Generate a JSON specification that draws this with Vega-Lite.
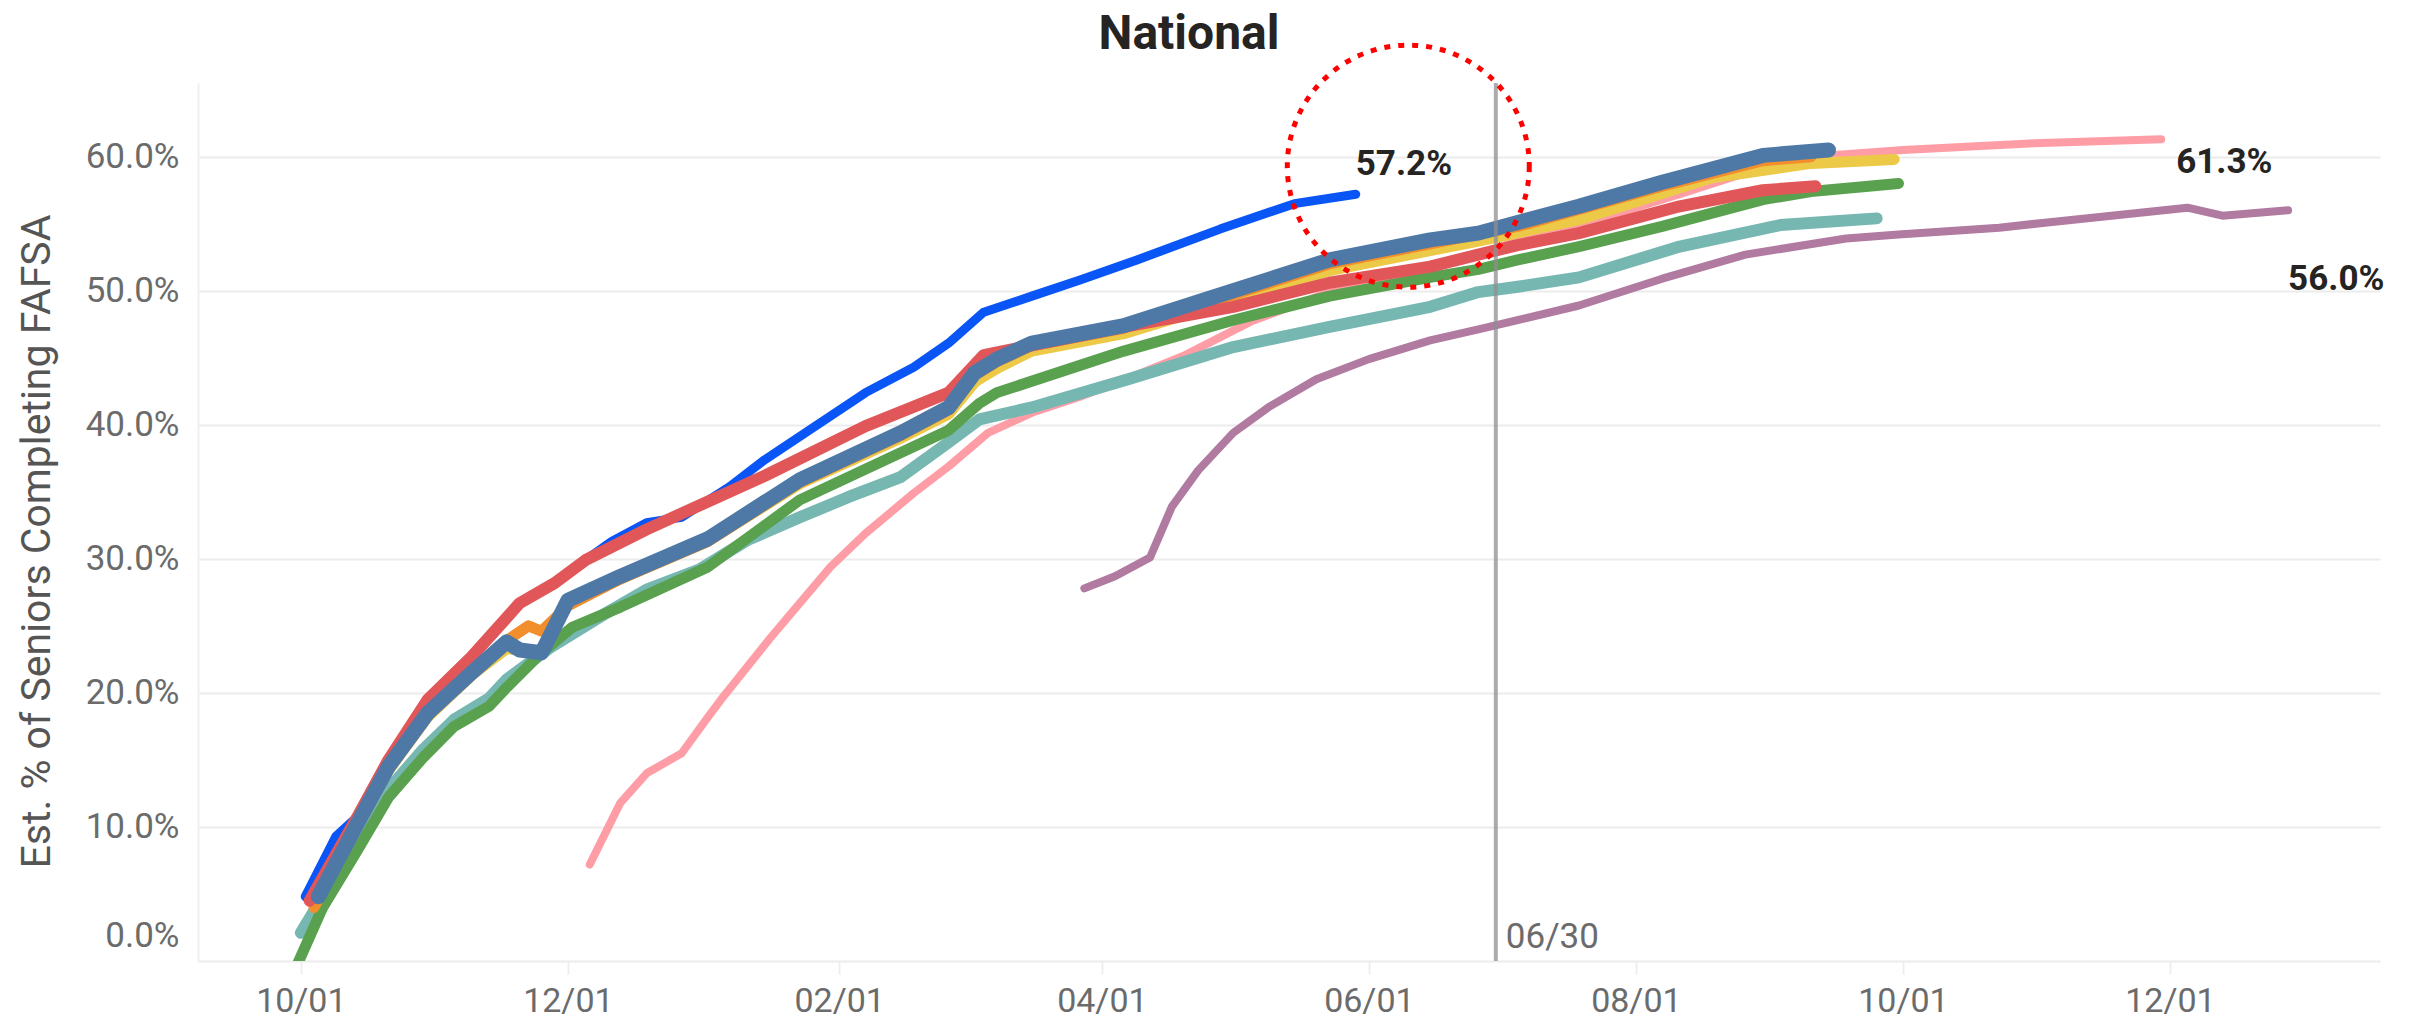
{
  "$schema": "https://vega.github.io/schema/vega-lite/v6.json",
  "width": 2182,
  "height": 878,
  "autosize": {"type": "none"},
  "padding": {"left": 198, "top": 83, "right": 32, "bottom": 59},
  "background": "white",
  "title": {
    "text": "National",
    "anchor": "middle",
    "frame": "group",
    "dx": -100,
    "dy": 28,
    "font": "Roboto",
    "fontSize": 48,
    "fontWeight": "bold",
    "color": "#252423"
  },
  "config": {
    "view": {"stroke": null},
    "font": "Roboto",
    "axis": {"labelFont": "Roboto", "titleFont": "Roboto"}
  },
  "datasets": {
    "cycles": [
      {"s": "Class of 2024", "d": "2024-03-28", "v": 0.278},
      {"s": "Class of 2024", "d": "2024-04-04", "v": 0.287},
      {"s": "Class of 2024", "d": "2024-04-12", "v": 0.301},
      {"s": "Class of 2024", "d": "2024-04-17", "v": 0.339},
      {"s": "Class of 2024", "d": "2024-04-23", "v": 0.366},
      {"s": "Class of 2024", "d": "2024-05-01", "v": 0.394},
      {"s": "Class of 2024", "d": "2024-05-09", "v": 0.413},
      {"s": "Class of 2024", "d": "2024-05-20", "v": 0.434},
      {"s": "Class of 2024", "d": "2024-06-01", "v": 0.449},
      {"s": "Class of 2024", "d": "2024-06-15", "v": 0.463},
      {"s": "Class of 2024", "d": "2024-06-27", "v": 0.472},
      {"s": "Class of 2024", "d": "2024-07-19", "v": 0.489},
      {"s": "Class of 2024", "d": "2024-08-07", "v": 0.509},
      {"s": "Class of 2024", "d": "2024-08-26", "v": 0.527},
      {"s": "Class of 2024", "d": "2024-09-18", "v": 0.539},
      {"s": "Class of 2024", "d": "2024-09-30", "v": 0.542},
      {"s": "Class of 2024", "d": "2024-10-23", "v": 0.547},
      {"s": "Class of 2024", "d": "2024-11-03", "v": 0.551},
      {"s": "Class of 2024", "d": "2024-12-05", "v": 0.562},
      {"s": "Class of 2024", "d": "2024-12-13", "v": 0.556},
      {"s": "Class of 2024", "d": "2024-12-28", "v": 0.560},

      {"s": "Class of 2025", "d": "2023-12-06", "v": 0.072},
      {"s": "Class of 2025", "d": "2023-12-13", "v": 0.118},
      {"s": "Class of 2025", "d": "2023-12-19", "v": 0.140},
      {"s": "Class of 2025", "d": "2023-12-27", "v": 0.155},
      {"s": "Class of 2025", "d": "2024-01-02", "v": 0.182},
      {"s": "Class of 2025", "d": "2024-01-05", "v": 0.195},
      {"s": "Class of 2025", "d": "2024-01-16", "v": 0.240},
      {"s": "Class of 2025", "d": "2024-01-30", "v": 0.294},
      {"s": "Class of 2025", "d": "2024-02-07", "v": 0.319},
      {"s": "Class of 2025", "d": "2024-02-18", "v": 0.349},
      {"s": "Class of 2025", "d": "2024-02-26", "v": 0.369},
      {"s": "Class of 2025", "d": "2024-03-06", "v": 0.394},
      {"s": "Class of 2025", "d": "2024-03-16", "v": 0.409},
      {"s": "Class of 2025", "d": "2024-03-27", "v": 0.421},
      {"s": "Class of 2025", "d": "2024-04-08", "v": 0.436},
      {"s": "Class of 2025", "d": "2024-04-20", "v": 0.452},
      {"s": "Class of 2025", "d": "2024-05-05", "v": 0.477},
      {"s": "Class of 2025", "d": "2024-05-23", "v": 0.499},
      {"s": "Class of 2025", "d": "2024-06-15", "v": 0.516},
      {"s": "Class of 2025", "d": "2024-07-05", "v": 0.537},
      {"s": "Class of 2025", "d": "2024-07-19", "v": 0.549},
      {"s": "Class of 2025", "d": "2024-08-11", "v": 0.572},
      {"s": "Class of 2025", "d": "2024-08-30", "v": 0.592},
      {"s": "Class of 2025", "d": "2024-09-14", "v": 0.601},
      {"s": "Class of 2025", "d": "2024-10-01", "v": 0.605},
      {"s": "Class of 2025", "d": "2024-10-31", "v": 0.610},
      {"s": "Class of 2025", "d": "2024-11-29", "v": 0.613},

      {"s": "Class of 2026", "d": "2023-10-02", "v": 0.048},
      {"s": "Class of 2026", "d": "2023-10-09", "v": 0.093},
      {"s": "Class of 2026", "d": "2023-10-14", "v": 0.108},
      {"s": "Class of 2026", "d": "2023-10-21", "v": 0.150},
      {"s": "Class of 2026", "d": "2023-10-30", "v": 0.195},
      {"s": "Class of 2026", "d": "2023-11-09", "v": 0.227},
      {"s": "Class of 2026", "d": "2023-11-20", "v": 0.267},
      {"s": "Class of 2026", "d": "2023-11-28", "v": 0.282},
      {"s": "Class of 2026", "d": "2023-12-05", "v": 0.299},
      {"s": "Class of 2026", "d": "2023-12-11", "v": 0.313},
      {"s": "Class of 2026", "d": "2023-12-19", "v": 0.327},
      {"s": "Class of 2026", "d": "2023-12-27", "v": 0.331},
      {"s": "Class of 2026", "d": "2024-01-07", "v": 0.354},
      {"s": "Class of 2026", "d": "2024-01-15", "v": 0.374},
      {"s": "Class of 2026", "d": "2024-02-07", "v": 0.424},
      {"s": "Class of 2026", "d": "2024-02-18", "v": 0.443},
      {"s": "Class of 2026", "d": "2024-02-26", "v": 0.461},
      {"s": "Class of 2026", "d": "2024-03-05", "v": 0.484},
      {"s": "Class of 2026", "d": "2024-03-16", "v": 0.496},
      {"s": "Class of 2026", "d": "2024-03-27", "v": 0.508},
      {"s": "Class of 2026", "d": "2024-04-09", "v": 0.523},
      {"s": "Class of 2026", "d": "2024-04-28", "v": 0.546},
      {"s": "Class of 2026", "d": "2024-05-15", "v": 0.565},
      {"s": "Class of 2026", "d": "2024-05-29", "v": 0.572},

      {"s": "Class of 2021", "d": "2023-10-01", "v": 0.021},
      {"s": "Class of 2021", "d": "2023-10-06", "v": 0.048},
      {"s": "Class of 2021", "d": "2023-10-14", "v": 0.090},
      {"s": "Class of 2021", "d": "2023-10-21", "v": 0.128},
      {"s": "Class of 2021", "d": "2023-10-29", "v": 0.158},
      {"s": "Class of 2021", "d": "2023-11-05", "v": 0.180},
      {"s": "Class of 2021", "d": "2023-11-13", "v": 0.196},
      {"s": "Class of 2021", "d": "2023-11-17", "v": 0.210},
      {"s": "Class of 2021", "d": "2023-11-27", "v": 0.234},
      {"s": "Class of 2021", "d": "2023-12-10", "v": 0.260},
      {"s": "Class of 2021", "d": "2023-12-19", "v": 0.277},
      {"s": "Class of 2021", "d": "2023-12-31", "v": 0.292},
      {"s": "Class of 2021", "d": "2024-01-11", "v": 0.314},
      {"s": "Class of 2021", "d": "2024-01-23", "v": 0.331},
      {"s": "Class of 2021", "d": "2024-02-03", "v": 0.346},
      {"s": "Class of 2021", "d": "2024-02-15", "v": 0.361},
      {"s": "Class of 2021", "d": "2024-02-26", "v": 0.387},
      {"s": "Class of 2021", "d": "2024-03-04", "v": 0.404},
      {"s": "Class of 2021", "d": "2024-03-16", "v": 0.413},
      {"s": "Class of 2021", "d": "2024-04-07", "v": 0.434},
      {"s": "Class of 2021", "d": "2024-05-01", "v": 0.458},
      {"s": "Class of 2021", "d": "2024-05-23", "v": 0.473},
      {"s": "Class of 2021", "d": "2024-06-15", "v": 0.488},
      {"s": "Class of 2021", "d": "2024-06-26", "v": 0.499},
      {"s": "Class of 2021", "d": "2024-07-05", "v": 0.503},
      {"s": "Class of 2021", "d": "2024-07-19", "v": 0.510},
      {"s": "Class of 2021", "d": "2024-08-11", "v": 0.533},
      {"s": "Class of 2021", "d": "2024-09-03", "v": 0.549},
      {"s": "Class of 2021", "d": "2024-09-25", "v": 0.554},

      {"s": "Class of 2022", "d": "2023-09-30", "v": -0.004},
      {"s": "Class of 2022", "d": "2023-10-06", "v": 0.040},
      {"s": "Class of 2022", "d": "2023-10-14", "v": 0.083},
      {"s": "Class of 2022", "d": "2023-10-21", "v": 0.122},
      {"s": "Class of 2022", "d": "2023-10-29", "v": 0.152},
      {"s": "Class of 2022", "d": "2023-11-05", "v": 0.175},
      {"s": "Class of 2022", "d": "2023-11-13", "v": 0.190},
      {"s": "Class of 2022", "d": "2023-11-17", "v": 0.204},
      {"s": "Class of 2022", "d": "2023-11-25", "v": 0.230},
      {"s": "Class of 2022", "d": "2023-12-02", "v": 0.249},
      {"s": "Class of 2022", "d": "2023-12-13", "v": 0.264},
      {"s": "Class of 2022", "d": "2024-01-02", "v": 0.294},
      {"s": "Class of 2022", "d": "2024-01-23", "v": 0.344},
      {"s": "Class of 2022", "d": "2024-02-26", "v": 0.396},
      {"s": "Class of 2022", "d": "2024-03-04", "v": 0.416},
      {"s": "Class of 2022", "d": "2024-03-08", "v": 0.424},
      {"s": "Class of 2022", "d": "2024-04-06", "v": 0.455},
      {"s": "Class of 2022", "d": "2024-05-01", "v": 0.478},
      {"s": "Class of 2022", "d": "2024-05-23", "v": 0.496},
      {"s": "Class of 2022", "d": "2024-06-15", "v": 0.510},
      {"s": "Class of 2022", "d": "2024-06-26", "v": 0.516},
      {"s": "Class of 2022", "d": "2024-07-05", "v": 0.523},
      {"s": "Class of 2022", "d": "2024-07-19", "v": 0.533},
      {"s": "Class of 2022", "d": "2024-08-07", "v": 0.548},
      {"s": "Class of 2022", "d": "2024-08-30", "v": 0.568},
      {"s": "Class of 2022", "d": "2024-09-10", "v": 0.574},
      {"s": "Class of 2022", "d": "2024-09-30", "v": 0.580},

      {"s": "Class of 2023", "d": "2023-10-04", "v": 0.044},
      {"s": "Class of 2023", "d": "2023-10-14", "v": 0.100},
      {"s": "Class of 2023", "d": "2023-10-21", "v": 0.142},
      {"s": "Class of 2023", "d": "2023-10-30", "v": 0.182},
      {"s": "Class of 2023", "d": "2023-11-09", "v": 0.213},
      {"s": "Class of 2023", "d": "2023-11-17", "v": 0.233},
      {"s": "Class of 2023", "d": "2023-11-20", "v": 0.232},
      {"s": "Class of 2023", "d": "2023-11-25", "v": 0.231},
      {"s": "Class of 2023", "d": "2023-12-01", "v": 0.266},
      {"s": "Class of 2023", "d": "2023-12-13", "v": 0.285},
      {"s": "Class of 2023", "d": "2024-01-02", "v": 0.313},
      {"s": "Class of 2023", "d": "2024-01-23", "v": 0.356},
      {"s": "Class of 2023", "d": "2024-02-15", "v": 0.390},
      {"s": "Class of 2023", "d": "2024-02-26", "v": 0.408},
      {"s": "Class of 2023", "d": "2024-03-03", "v": 0.432},
      {"s": "Class of 2023", "d": "2024-03-08", "v": 0.442},
      {"s": "Class of 2023", "d": "2024-03-16", "v": 0.455},
      {"s": "Class of 2023", "d": "2024-04-06", "v": 0.468},
      {"s": "Class of 2023", "d": "2024-05-01", "v": 0.493},
      {"s": "Class of 2023", "d": "2024-05-23", "v": 0.515},
      {"s": "Class of 2023", "d": "2024-06-15", "v": 0.530},
      {"s": "Class of 2023", "d": "2024-06-26", "v": 0.537},
      {"s": "Class of 2023", "d": "2024-07-19", "v": 0.553},
      {"s": "Class of 2023", "d": "2024-08-18", "v": 0.584},
      {"s": "Class of 2023", "d": "2024-09-10", "v": 0.595},
      {"s": "Class of 2023", "d": "2024-09-29", "v": 0.598},

      {"s": "Class of 2019", "d": "2023-10-04", "v": 0.040},
      {"s": "Class of 2019", "d": "2023-10-14", "v": 0.101},
      {"s": "Class of 2019", "d": "2023-10-21", "v": 0.143},
      {"s": "Class of 2019", "d": "2023-10-30", "v": 0.183},
      {"s": "Class of 2019", "d": "2023-11-09", "v": 0.214},
      {"s": "Class of 2019", "d": "2023-11-17", "v": 0.239},
      {"s": "Class of 2019", "d": "2023-11-22", "v": 0.250},
      {"s": "Class of 2019", "d": "2023-11-25", "v": 0.246},
      {"s": "Class of 2019", "d": "2023-12-01", "v": 0.265},
      {"s": "Class of 2019", "d": "2023-12-13", "v": 0.285},
      {"s": "Class of 2019", "d": "2024-01-02", "v": 0.313},
      {"s": "Class of 2019", "d": "2024-01-23", "v": 0.357},
      {"s": "Class of 2019", "d": "2024-02-15", "v": 0.392},
      {"s": "Class of 2019", "d": "2024-02-26", "v": 0.411},
      {"s": "Class of 2019", "d": "2024-03-03", "v": 0.437},
      {"s": "Class of 2019", "d": "2024-03-08", "v": 0.447},
      {"s": "Class of 2019", "d": "2024-03-16", "v": 0.459},
      {"s": "Class of 2019", "d": "2024-04-06", "v": 0.472},
      {"s": "Class of 2019", "d": "2024-05-01", "v": 0.497},
      {"s": "Class of 2019", "d": "2024-05-23", "v": 0.520},
      {"s": "Class of 2019", "d": "2024-06-15", "v": 0.535},
      {"s": "Class of 2019", "d": "2024-07-05", "v": 0.548},
      {"s": "Class of 2019", "d": "2024-08-07", "v": 0.578},
      {"s": "Class of 2019", "d": "2024-08-30", "v": 0.597},
      {"s": "Class of 2019", "d": "2024-09-10", "v": 0.600},

      {"s": "Class of 2020", "d": "2023-10-03", "v": 0.045},
      {"s": "Class of 2020", "d": "2023-10-14", "v": 0.108},
      {"s": "Class of 2020", "d": "2023-10-21", "v": 0.150},
      {"s": "Class of 2020", "d": "2023-10-30", "v": 0.195},
      {"s": "Class of 2020", "d": "2023-11-09", "v": 0.227},
      {"s": "Class of 2020", "d": "2023-11-20", "v": 0.267},
      {"s": "Class of 2020", "d": "2023-11-28", "v": 0.282},
      {"s": "Class of 2020", "d": "2023-12-05", "v": 0.299},
      {"s": "Class of 2020", "d": "2023-12-19", "v": 0.322},
      {"s": "Class of 2020", "d": "2024-01-15", "v": 0.362},
      {"s": "Class of 2020", "d": "2024-02-07", "v": 0.399},
      {"s": "Class of 2020", "d": "2024-02-26", "v": 0.424},
      {"s": "Class of 2020", "d": "2024-03-05", "v": 0.452},
      {"s": "Class of 2020", "d": "2024-04-06", "v": 0.473},
      {"s": "Class of 2020", "d": "2024-05-01", "v": 0.488},
      {"s": "Class of 2020", "d": "2024-05-23", "v": 0.506},
      {"s": "Class of 2020", "d": "2024-06-15", "v": 0.518},
      {"s": "Class of 2020", "d": "2024-06-26", "v": 0.527},
      {"s": "Class of 2020", "d": "2024-07-05", "v": 0.534},
      {"s": "Class of 2020", "d": "2024-07-19", "v": 0.543},
      {"s": "Class of 2020", "d": "2024-08-11", "v": 0.563},
      {"s": "Class of 2020", "d": "2024-08-30", "v": 0.575},
      {"s": "Class of 2020", "d": "2024-09-11", "v": 0.578},

      {"s": "Class of 2018", "d": "2023-10-05", "v": 0.048},
      {"s": "Class of 2018", "d": "2023-10-14", "v": 0.103},
      {"s": "Class of 2018", "d": "2023-10-21", "v": 0.145},
      {"s": "Class of 2018", "d": "2023-10-30", "v": 0.185},
      {"s": "Class of 2018", "d": "2023-11-09", "v": 0.215},
      {"s": "Class of 2018", "d": "2023-11-17", "v": 0.238},
      {"s": "Class of 2018", "d": "2023-11-20", "v": 0.232},
      {"s": "Class of 2018", "d": "2023-11-25", "v": 0.230},
      {"s": "Class of 2018", "d": "2023-12-01", "v": 0.269},
      {"s": "Class of 2018", "d": "2023-12-13", "v": 0.287},
      {"s": "Class of 2018", "d": "2024-01-02", "v": 0.315},
      {"s": "Class of 2018", "d": "2024-01-23", "v": 0.359},
      {"s": "Class of 2018", "d": "2024-02-15", "v": 0.394},
      {"s": "Class of 2018", "d": "2024-02-26", "v": 0.413},
      {"s": "Class of 2018", "d": "2024-03-03", "v": 0.439},
      {"s": "Class of 2018", "d": "2024-03-08", "v": 0.449},
      {"s": "Class of 2018", "d": "2024-03-16", "v": 0.461},
      {"s": "Class of 2018", "d": "2024-04-06", "v": 0.474},
      {"s": "Class of 2018", "d": "2024-05-01", "v": 0.500},
      {"s": "Class of 2018", "d": "2024-05-23", "v": 0.523},
      {"s": "Class of 2018", "d": "2024-06-15", "v": 0.538},
      {"s": "Class of 2018", "d": "2024-06-26", "v": 0.543},
      {"s": "Class of 2018", "d": "2024-07-05", "v": 0.551},
      {"s": "Class of 2018", "d": "2024-07-19", "v": 0.563},
      {"s": "Class of 2018", "d": "2024-08-07", "v": 0.581},
      {"s": "Class of 2018", "d": "2024-08-30", "v": 0.601},
      {"s": "Class of 2018", "d": "2024-09-14", "v": 0.605}
    ],
    "markers": [
      {"d": "2024-06-30", "lab": "06/30"}
    ],
    "highlight": [
      {"d": "2024-06-10", "v": 0.593}
    ]
  },
  "encoding": {
    "x": {
      "field": "d",
      "type": "temporal",
      "scale": {
        "type": "utc",
        "nice": false,
        "domain": [
          {"year": 2023, "month": 9, "date": 7, "hours": 12, "utc": true},
          {"year": 2025, "month": 1, "date": 18, "utc": true}
        ]
      },
      "axis": {
        "title": null,
        "labelExpr": "utcFormat(datum.value, '%m/%d')",
        "values": [
          {"year": 2023, "month": 10, "date": 1, "utc": true},
          {"year": 2023, "month": 12, "date": 1, "utc": true},
          {"year": 2024, "month": 2, "date": 1, "utc": true},
          {"year": 2024, "month": 4, "date": 1, "utc": true},
          {"year": 2024, "month": 6, "date": 1, "utc": true},
          {"year": 2024, "month": 8, "date": 1, "utc": true},
          {"year": 2024, "month": 10, "date": 1, "utc": true},
          {"year": 2024, "month": 12, "date": 1, "utc": true}
        ],
        "grid": false,
        "domain": false,
        "ticks": true,
        "tickSize": 13,
        "tickWidth": 2,
        "tickColor": "#eeeeee",
        "labelPadding": 10,
        "labelFontSize": 34,
        "labelColor": "#6b6b6b"
      }
    }
  },
  "layer": [
    {
      "data": {"name": "cycles"},
      "mark": {"type": "line", "strokeCap": "round", "strokeJoin": "round", "clip": true},
      "encoding": {
        "y": {
          "field": "v",
          "type": "quantitative",
          "scale": {"domain": [0, 0.655], "nice": false, "zero": false},
          "axis": {
            "title": "Est. % of Seniors Completing FAFSA",
            "titleFontSize": 41,
            "titleFontWeight": "normal",
            "titleColor": "#555555",
            "titlePadding": 27,
            "titleY": 458,
            "values": [0, 0.1, 0.2, 0.3, 0.4, 0.5, 0.6],
            "format": ".1%",
            "labelFontSize": 35,
            "labelColor": "#6b6b6b",
            "labelPadding": 19,
            "labelFlush": true,
            "labelFlushOffset": -8,
            "ticks": false,
            "domain": true,
            "domainColor": "#f0f0f0",
            "domainWidth": 2,
            "grid": true,
            "gridColor": "#ececec",
            "gridWidth": 2
          }
        },
        "color": {
          "field": "s",
          "type": "nominal",
          "legend": null,
          "scale": {
            "domain": ["Class of 2018", "Class of 2019", "Class of 2020", "Class of 2021", "Class of 2022", "Class of 2023", "Class of 2024", "Class of 2025", "Class of 2026"],
            "range": ["#4e79a7", "#f28e2b", "#e15759", "#76b7b2", "#59a14f", "#edc948", "#b07aa1", "#ff9da7", "#0a55f5"]
          }
        },
        "strokeWidth": {
          "field": "s",
          "type": "nominal",
          "legend": null,
          "scale": {
            "type": "ordinal",
            "domain": ["Class of 2018", "Class of 2019", "Class of 2020", "Class of 2021", "Class of 2022", "Class of 2023", "Class of 2024", "Class of 2025", "Class of 2026"],
            "range": [15, 11, 12, 12, 11, 11, 8, 8, 9]
          }
        }
      }
    },
    {
      "data": {"name": "markers"},
      "mark": {"type": "rule", "color": "#8f8f8f", "strokeWidth": 4, "opacity": 0.75},
      "encoding": {}
    },
    {
      "data": {"name": "markers"},
      "mark": {"type": "text", "align": "left", "baseline": "alphabetic", "dx": 10, "dy": -13, "fontSize": 35, "color": "#6b6b6b"},
      "encoding": {
        "y": {"datum": 0, "type": "quantitative"},
        "text": {"field": "lab"}
      }
    },
    {
      "data": {"name": "cycles"},
      "transform": [
        {"filter": {"field": "s", "equal": "Class of 2026"}},
        {"window": [{"op": "row_number", "as": "rn"}], "sort": [{"field": "d", "order": "descending"}]},
        {"filter": "datum.rn === 1"}
      ],
      "mark": {"type": "text", "align": "left", "baseline": "middle", "dx": 0, "dy": -30, "fontSize": 35, "fontWeight": "bold", "color": "#252423"},
      "encoding": {
        "y": {"field": "v", "type": "quantitative"},
        "text": {"field": "v", "type": "quantitative", "format": ".1%"}
      }
    },
    {
      "data": {"name": "cycles"},
      "transform": [
        {"filter": {"field": "s", "equal": "Class of 2025"}},
        {"window": [{"op": "row_number", "as": "rn"}], "sort": [{"field": "d", "order": "descending"}]},
        {"filter": "datum.rn === 1"}
      ],
      "mark": {"type": "text", "align": "left", "baseline": "middle", "dx": 15, "dy": 23, "fontSize": 35, "fontWeight": "bold", "color": "#252423"},
      "encoding": {
        "y": {"field": "v", "type": "quantitative"},
        "text": {"field": "v", "type": "quantitative", "format": ".1%"}
      }
    },
    {
      "data": {"name": "cycles"},
      "transform": [
        {"filter": {"field": "s", "equal": "Class of 2024"}},
        {"window": [{"op": "row_number", "as": "rn"}], "sort": [{"field": "d", "order": "descending"}]},
        {"filter": "datum.rn === 1"}
      ],
      "mark": {"type": "text", "align": "left", "baseline": "middle", "dx": 0, "dy": 69, "fontSize": 35, "fontWeight": "bold", "color": "#252423"},
      "encoding": {
        "y": {"field": "v", "type": "quantitative"},
        "text": {"field": "v", "type": "quantitative", "format": ".1%"}
      }
    },
    {
      "data": {"name": "highlight"},
      "mark": {"type": "point", "shape": "circle", "filled": false, "size": 58564, "color": "#ff0000", "strokeWidth": 5, "strokeDash": [6, 8], "opacity": 1, "clip": false},
      "encoding": {
        "y": {"field": "v", "type": "quantitative"}
      }
    }
  ]
}
